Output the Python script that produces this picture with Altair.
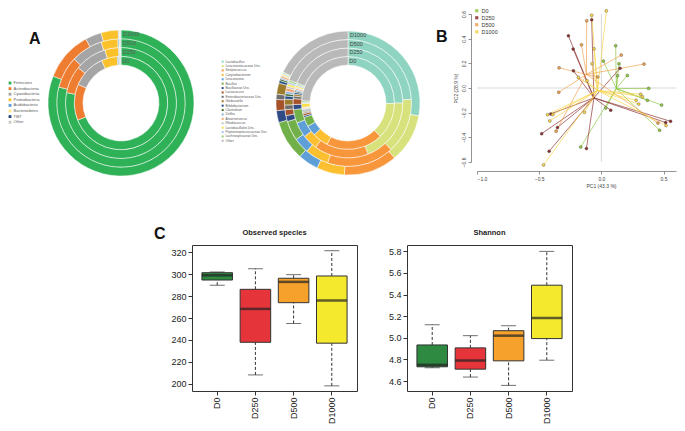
import altair as alt
import pandas as pd

FONT = "Liberation Sans"

# ---------------- Panel A (left donut): phyla ----------------
rings = ["D0", "D250", "D500", "D1000"]
phyla = ["Firmicutes", "Actinobacteria", "Cyanobacteria", "Proteobacteria",
         "Acidobacteria", "Bacteroidetes", "TM7", "Other"]
phyla_colors = ["#2eb157", "#ef7d31", "#a5a5a5", "#fbc12a",
                "#5b9bd5", "#ffe38a", "#264478", "#c9c9c9"]
phyla_D0 = [69.0, 12.5, 11.7, 5.5, 0.5, 0.3, 0.2, 0.3]
phyla_D250 = [78.0, 8.0, 9.3, 4.0, 0.3, 0.2, 0.1, 0.1]
phyla_D500 = [79.0, 8.0, 8.0, 4.2, 0.3, 0.2, 0.1, 0.2]
phyla_D1000 = [81.0, 11.0, 3.6, 3.8, 0.2, 0.2, 0.1, 0.1]

# ---------------- Panel A (right donut): genera ----------------
genera = ["Lactobacillus", "Leuconostocaceae Unc.", "Streptococcus", "Corynebacterium",
          "Leuconostoc", "Bacillus", "Bacillaceae Unc.", "Lactococcus",
          "Enterobacteriaceae Unc.", "Globicatella", "Bifidobacterium", "Clostridium",
          "Delftia", "Anaerotruncus", "Rhodococcus", "Lactobacillales Unc.",
          "Peptostreptococcaceae Unc.", "Lachnospiraceae Unc.", "Other"]
genus_colors = ["#8fd4c1", "#d7e27d", "#f7963a", "#fbbf2f", "#5f9fd8", "#72b04a",
                "#2e4b86", "#a5522a", "#6e6e6e", "#9c7b2c", "#264d8a", "#3f6b2c",
                "#86aee0", "#f2a36c", "#c2c2c2", "#f9e04b", "#a3c6e8", "#9ccf7c",
                "#b9b9b9"]
genus_D0 = [25, 12.5, 19.5, 5.5, 3.6, 3.3, 0.6, 0.7, 0.4, 0.3, 0.3, 0.3, 0.3, 0.3, 0.3, 1.4, 0.4, 0.5, 24.0]
genus_D250 = [25, 19, 16, 4.5, 4.5, 4.0, 1.5, 1.7, 0.8, 0.6, 0.5, 0.4, 0.4, 0.4, 0.3, 0.5, 0.4, 0.4, 19.0]
genus_D500 = [24, 14, 17, 6, 4, 5, 1.5, 1.5, 1.2, 1.5, 0.8, 0.6, 0.6, 0.8, 0.5, 0.6, 0.5, 0.5, 19.0]
genus_D1000 = [28, 11, 12, 6.3, 4.6, 9, 2.7, 2.5, 1.2, 2.5, 0.6, 0.4, 0.3, 0.4, 0.2, 0.3, 0.2, 0.2, 18.0]

# ---------------- Panel B: PCoA ----------------
pc_groups = ["D0", "D250", "D500", "D1000"]
pc_colors = ["#8cc63e", "#8b2e2e", "#f0a04b", "#f7d345"]
hub_x = [0.12, -0.06, -0.12, -0.03]
hub_y = [-0.005, -0.08, 0.11, -0.02]
pt_group = (["D0"] * 11 + ["D250"] * 13 + ["D500"] * 9 + ["D1000"] * 16)
pt_x = [0.38, 0.016, 0.115, 0.209, 0.484, 0.468, -0.166, 0.035, 0.37, 0.142, 0.13,
        -0.265, -0.227, -0.225, -0.48, -0.42, -0.12, -0.353, -0.407, 0.556, 0.517, 0.075, 0.15, -0.078,
        -0.34, -0.343, -0.16, 0.16, 0.343, -0.118, -0.364, 0.455, -0.03,
        0.04, -0.078, -0.433, -0.39, -0.415, 0.52, -0.465, 0.316, 0.33, 0.28, 0.30, -0.059, -0.075, -0.185, -0.116, -0.136]
pt_y = [-0.003, 0.218, 0.343, 0.102, -0.138, -0.343, -0.478, -0.162, -0.10, 0.197, 0.10,
        0.423, 0.316, 0.14, -0.37, -0.513, -0.49, -0.32, -0.21, -0.27, -0.28, -0.18, 0.16, 0.553,
        0.164, -0.035, 0.35, 0.267, 0.194, 0.545, -0.35, -0.284, 0.09,
        0.626, 0.59, -0.216, -0.215, -0.267, -0.305, -0.624, -0.05, -0.07, -0.10, -0.13, 0.318, 0.197, 0.086, 0.059, -0.197]
zero_line = [0.0]

# ---------------- Panel C: boxplots ----------------
box_groups = ["D0", "D250", "D500", "D1000"]
box_colors = ["#2e8a40", "#e5343a", "#f5a12c", "#f5e92e"]
obs_low = [290, 208, 255, 198]
obs_q1 = [294.7, 237.8, 274, 237]
obs_med = [299, 268.3, 293, 276]
obs_q3 = [301.4, 286.2, 296.3, 298.4]
obs_high = [302, 305, 299.6, 321.5]
obs_ticks = [200, 220, 240, 260, 280, 300, 320]
sh_low = [4.723, 4.637, 4.56, 4.793]
sh_q1 = [4.732, 4.71, 4.787, 4.993]
sh_med = [4.75, 4.79, 5.02, 5.183]
sh_q3 = [4.934, 4.907, 5.066, 5.487]
sh_high = [5.122, 5.02, 5.112, 5.8]
sh_ticks = [4.6, 4.8, 5.0, 5.2, 5.4, 5.6, 5.8]


def ring_table(cats, per_ring, name):
    rows = []
    for r, vals in zip(rings, per_ring):
        for i, (c, v) in enumerate(zip(cats, vals)):
            rows.append({"ring": r, name: c, "idx": i, "value": v})
    return pd.DataFrame(rows)


def donut(df, name, cats, colors, r0, rw, legend, lab_size, lab_color, w, h, title=None):
    layers = []
    for i, r in enumerate(rings):
        layers.append(
            alt.Chart(df).transform_filter(alt.datum.ring == r)
            .mark_arc(innerRadius=r0 + i * rw, outerRadius=r0 + (i + 1) * rw,
                      stroke="white", strokeWidth=0.5)
            .encode(theta=alt.Theta("value:Q", stack="normalize"),
                    color=alt.Color(f"{name}:N", sort=cats,
                                    scale=alt.Scale(domain=cats, range=colors),
                                    legend=legend),
                    order=alt.Order("idx:Q"))
        )
    lab = pd.DataFrame({"ring": rings})
    for i, r in enumerate(rings):
        layers.append(
            alt.Chart(lab).transform_filter(alt.datum.ring == r)
            .mark_text(radius=r0 + (i + 0.5) * rw, theta=0.03, align="left",
                       baseline="middle", fontSize=lab_size, color=lab_color, font=FONT)
            .encode(text="ring:N"))
    ch = alt.layer(*layers).properties(width=w, height=h)
    if title is not None:
        ch = ch.properties(title=title)
    return ch


def panel_title(t, dx, dy):
    return alt.TitleParams(t, anchor="start", frame="group", fontSize=16, fontWeight="bold",
                           font=FONT, color="#111", dx=dx, dy=dy, offset=0,
                           baseline="alphabetic")


dfA = ring_table(phyla, [phyla_D0, phyla_D250, phyla_D500, phyla_D1000], "phylum")
dfG = ring_table(genera, [genus_D0, genus_D250, genus_D500, genus_D1000], "genus")

legA = alt.Legend(title=None, orient="none", legendX=-15, legendY=67, symbolType="square",
                  symbolSize=8, symbolStrokeWidth=0, labelFontSize=4.0, labelColor="#595959",
                  rowPadding=1.6, labelOffset=1.5, labelFont=FONT)
legG = alt.Legend(title=None, orient="none", legendX=-8, legendY=46, symbolType="square",
                  symbolSize=4, symbolStrokeWidth=0, labelFontSize=3.3, labelColor="#595959",
                  rowPadding=0.4, labelOffset=1.2, labelFont=FONT, labelLimit=200)

donutA = donut(dfA, "phylum", phyla, phyla_colors, 38, 8.75, legA, 5.5, "#606060", 196, 178,
               title=panel_title("A", 6, 46))
donutG = donut(dfG, "genus", genera, genus_colors, 38, 8.5, legG, 5.5, "#444444", 238, 178)

# ---- scatter ----
hub_df = pd.DataFrame({"grp": pc_groups, "hx": hub_x, "hy": hub_y})
pt_df = pd.DataFrame({"grp": pt_group, "px": pt_x, "py": pt_y})
seg_df = pt_df.merge(hub_df, on="grp")
zero_df = pd.DataFrame({"zero": zero_line})

xs = alt.Scale(domain=[-1.0, 0.6], nice=False, zero=False)
ys = alt.Scale(domain=[-0.6, 0.6], nice=False, zero=False)
axis_common = dict(grid=False, labelFontSize=5, titleFontSize=5, labelColor="#444",
                   titleColor="#444", domainColor="#777", tickColor="#777", tickSize=3,
                   domainWidth=0.8, tickWidth=0.8, format=".1f", labelFont=FONT, titleFont=FONT,
                   titleFontWeight="normal")
xaxis = alt.Axis(values=[-1.0, -0.5, 0.0, 0.5], title="PC1 (43.3 %)", offset=9,
                 titleX=124, titlePadding=2, labelPadding=2, **axis_common)
yaxis = alt.Axis(values=[-0.6, -0.4, -0.2, 0.0, 0.2, 0.4, 0.6], title="PC2 (28.9 %)", offset=6,
                 labelAngle=-90, titlePadding=3, labelPadding=2, **axis_common)


def X(f):
    return alt.X(f"{f}:Q", scale=xs, axis=xaxis)


def Y(f):
    return alt.Y(f"{f}:Q", scale=ys, axis=yaxis)


colB = alt.Color("grp:N", sort=pc_groups, scale=alt.Scale(domain=pc_groups, range=pc_colors),
                 legend=alt.Legend(title=None, orient="none", legendX=-3, legendY=-6,
                                   symbolType="square", symbolSize=10, symbolStrokeWidth=0,
                                   labelFontSize=5.5, labelColor="#333", rowPadding=0,
                                   labelOffset=2, labelFont=FONT))

zv = alt.Chart(zero_df).mark_rule(color="#c8c8c8", strokeWidth=0.7).encode(x=X("zero"))
zh = alt.Chart(zero_df).mark_rule(color="#c8c8c8", strokeWidth=0.7).encode(y=Y("zero"))
segs = alt.Chart(seg_df).mark_rule(strokeWidth=0.8, opacity=0.85).encode(
    x=X("hx"), y=Y("hy"), x2="px:Q", y2="py:Q", color=colB)
pts = alt.Chart(pt_df).mark_point(filled=True, size=9, opacity=1, stroke="#555",
                                  strokeWidth=0.4).encode(x=X("px"), y=Y("py"), color=colB)
scatter = alt.layer(zv, zh, segs, pts).properties(width=199, height=148,
                                                  title=panel_title("B", -41, 50))

# ---- boxplots ----


def boxplot(low, q1, med, q3, high, domain, ticks, fmt, title):
    df = pd.DataFrame({"group": box_groups, "low": low, "q1": q1, "med": med,
                       "q3": q3, "high": high})
    x = alt.X("group:N", sort=box_groups, scale=alt.Scale(paddingInner=0.2, paddingOuter=0.26),
              axis=alt.Axis(title=None, labelAngle=-90, labelFontSize=9, tickSize=4,
                            domain=False, labelColor="#222", tickColor="#333",
                            labelPadding=2, labelFont=FONT))
    ysc = alt.Scale(domain=domain, nice=False, zero=False)
    yax = alt.Axis(title=None, values=ticks, format=fmt, labelFontSize=9, tickSize=4,
                   domain=False, grid=False, labelColor="#222", tickColor="#333",
                   labelPadding=2, labelFont=FONT)
    base = alt.Chart(df)
    w_lo = base.mark_rule(color="#333", strokeWidth=1, strokeDash=[3, 2]).encode(
        x=x, y=alt.Y("low:Q", scale=ysc, axis=yax), y2="q1:Q")
    w_hi = base.mark_rule(color="#333", strokeWidth=1, strokeDash=[3, 2]).encode(
        x=x, y=alt.Y("q3:Q", scale=ysc, axis=yax), y2="high:Q")
    box = base.mark_bar(stroke="#333", strokeWidth=1).encode(
        x=x, y=alt.Y("q1:Q", scale=ysc, axis=yax), y2="q3:Q",
        color=alt.Color("group:N", sort=box_groups,
                        scale=alt.Scale(domain=box_groups, range=box_colors), legend=None))
    med_t = base.mark_tick(color="#222", thickness=2.5, size=30.5).encode(
        x=x, y=alt.Y("med:Q", scale=ysc, axis=yax))
    cap_lo = base.mark_tick(color="#333", thickness=1, size=15).encode(
        x=x, y=alt.Y("low:Q", scale=ysc, axis=yax))
    cap_hi = base.mark_tick(color="#333", thickness=1, size=15).encode(
        x=x, y=alt.Y("high:Q", scale=ysc, axis=yax))
    return alt.layer(w_lo, w_hi, box, med_t, cap_lo, cap_hi).properties(
        width=165, height=146,
        view=alt.ViewBackground(stroke="#333", strokeWidth=1),
        title=alt.TitleParams(title, anchor="middle", frame="group", fontSize=7.5,
                              fontWeight="bold", font=FONT, color="#222", offset=11, dy=10,
                              baseline="bottom"))


box1 = boxplot(obs_low, obs_q1, obs_med, obs_q3, obs_high, [193.3, 326.7], obs_ticks, "d",
               "Observed species")
box2 = boxplot(sh_low, sh_q1, sh_med, sh_q3, sh_high, [4.508, 5.859], sh_ticks, ".1f",
               "Shannon")

spacer = alt.Chart(pd.DataFrame({"c": ["C"]})).mark_point(opacity=0).properties(
    width=119, height=146, title=alt.TitleParams("C", anchor="start", frame="group", fontSize=16,
                                                 fontWeight="bold", font=FONT, color="#111",
                                                 dx=131, dy=15, offset=5, baseline="alphabetic"))

top = alt.hconcat(donutA, donutG, scatter, spacing=10, bounds="flush").resolve_scale(
    color="independent", theta="independent")
bottom = alt.hconcat(spacer, box1, box2, spacing=50, bounds="flush").resolve_scale(
    color="independent")

chart = alt.vconcat(top, bottom, spacing=34).resolve_scale(
    color="independent").properties(padding=0).configure(font=FONT).configure_view(
    strokeWidth=0).configure_axis(grid=False)

chart.save("out.html", embed_options={"renderer": "svg", "actions": False})
